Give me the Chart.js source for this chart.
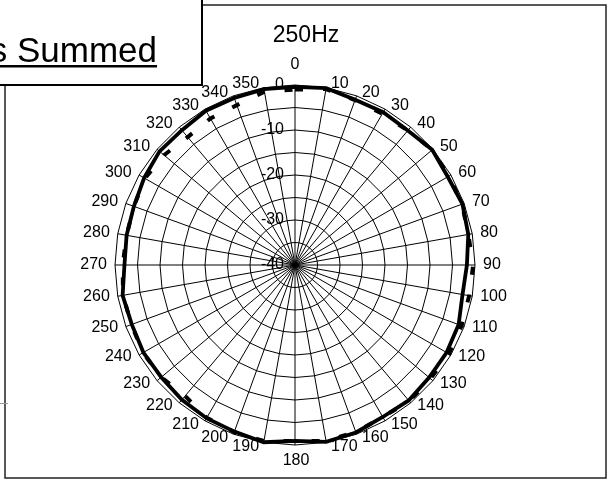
<!DOCTYPE html>
<html>
<head>
<meta charset="utf-8">
<script src="https://cdn.jsdelivr.net/npm/chart.js@4/dist/chart.umd.min.js"></script>
<style>
  html, body { margin: 0; padding: 0; background: #fff; }
  canvas { display: block; }
</style>
</head>
<body>
<canvas id="polar" width="612" height="483"></canvas>
<script>
// Directions (degrees) around the polar plot
const angles = ['0','10','20','30','40','50','60','70','80','90','100','110','120','130','140','150','160','170',
                '180','190','200','210','220','230','240','250','260','270','280','290','300','310','320','330','340','350'];

// Level in dB at each direction, solid trace
const solidLevels = [-0.4, -0.1, -0.9, -0.8, -1.0, -0.2, -0.8, -0.4, -0.9, -1.8, -2.2, -1.3,
                     -1.1, -1.1, -0.7, -1.0, -0.4, -0.1, -0.9, 0.0, -0.6, -0.7, -0.9, -1.2,
                     -1.1, -1.4, -1.1, -2.1, -2.0, -1.9, -1.3, -0.7, -0.9, -0.4, -0.5, -0.3];

// Level in dB at each direction, dashed trace
const dashedLevels = [-1.0, -0.3, -1.0, -1.2, -1.0, -0.2, -0.5, -0.5, -0.9, -0.4, -0.7, -0.6,
                      -0.5, -0.7, -0.5, -1.0, -0.5, -0.3, -0.9, -0.3, -0.5, -0.8, -2.0, -1.2,
                      -1.0, -1.3, -1.2, -1.7, -2.0, -1.9, -1.5, -2.0, -2.9, -2.4, -2.2, -0.9];

// Radial value labels
const valueTicks = [0, -10, -20, -30, -40];

const titleText = '250Hz';
const boxText = 's Summed';

const CX = 295, CY = 265, R = 180;
const FONT = '"Liberation Sans", Arial, sans-serif';

const overlay = {
  id: 'overlay',
  beforeDatasetsDraw(chart) {
    const ctx = chart.ctx;
    const s = chart.scales.r;
    ctx.save();
    ctx.fillStyle = '#000';
    // value axis labels, just left of the vertical axis
    ctx.font = '16px ' + FONT;
    ctx.textAlign = 'right';
    ctx.textBaseline = 'middle';
    valueTicks.forEach(v => {
      const y = s.yCenter - s.getDistanceFromCenterForValue(v);
      ctx.fillText(String(v), s.xCenter - 11, y);
    });
    // direction labels around the rim
    angles.forEach((lab, i) => {
      const p = s.getPointPosition(i, s.drawingArea + 4);
      const a = Number(lab);
      if (a === 0) {
        ctx.textAlign = 'center';
        ctx.fillText(lab, s.xCenter, p.y - 16);
      } else if (a === 180) {
        ctx.textAlign = 'center';
        ctx.fillText(lab, s.xCenter + 1, p.y + 12);
      } else if (a < 180) {
        ctx.textAlign = 'left';
        ctx.fillText(lab, p.x + 4, p.y);
      } else {
        ctx.textAlign = 'right';
        ctx.fillText(lab, p.x - 4, p.y);
      }
    });
    ctx.restore();
  },
  afterDraw(chart) {
    const ctx = chart.ctx;
    ctx.save();
    // outer frame
    ctx.strokeStyle = '#222';
    ctx.lineWidth = 1.5;
    ctx.strokeRect(5, 5, 601, 473);
    // small mark on the left edge
    ctx.strokeStyle = '#999';
    ctx.lineWidth = 1;
    ctx.beginPath();
    ctx.moveTo(0, 403.5);
    ctx.lineTo(8, 403.5);
    ctx.stroke();
    // caption box in the corner
    ctx.fillStyle = '#fff';
    ctx.fillRect(-2, -2, 204, 87);
    ctx.strokeStyle = '#000';
    ctx.lineWidth = 2;
    ctx.strokeRect(-2, -2, 204, 87);
    ctx.fillStyle = '#000';
    ctx.font = '35px ' + FONT;
    ctx.textAlign = 'left';
    ctx.textBaseline = 'alphabetic';
    const sw = ctx.measureText('s ').width;
    const tx = 17 - sw;
    ctx.fillText(boxText, tx, 62);
    const tw = ctx.measureText(boxText).width;
    ctx.fillRect(0, 65, tx + tw, 2.5);
    // title
    ctx.font = '23px ' + FONT;
    ctx.textAlign = 'center';
    ctx.textBaseline = 'middle';
    ctx.fillText(titleText, 306, 36);
    ctx.restore();
  }
};

new Chart(document.getElementById('polar'), {
  type: 'radar',
  data: {
    labels: angles,
    datasets: [
      {
        label: 'solid',
        data: solidLevels,
        borderColor: '#000',
        borderWidth: 3.8,
        backgroundColor: 'rgba(0,0,0,0)',
        fill: false,
        pointRadius: 0,
        tension: 0
      },
      {
        label: 'dashed',
        data: dashedLevels,
        borderColor: '#000',
        borderWidth: 4,
        borderDash: [8, 20],
        backgroundColor: 'rgba(0,0,0,0)',
        fill: false,
        pointRadius: 0,
        tension: 0
      }
    ]
  },
  options: {
    responsive: false,
    animation: false,
    devicePixelRatio: 1,
    plugins: { legend: { display: false }, title: { display: false }, tooltip: { enabled: false } },
    scales: {
      r: {
        min: -40,
        max: 0,
        ticks: { display: false, stepSize: 5 },
        grid: { color: '#000', lineWidth: 1, circular: false },
        angleLines: { color: '#000', lineWidth: 1 },
        pointLabels: { display: false },
        afterFit(scale) {
          scale.xCenter = CX;
          scale.yCenter = CY;
          scale.drawingArea = R;
        }
      }
    }
  },
  plugins: [overlay]
});
</script>
</body>
</html>
